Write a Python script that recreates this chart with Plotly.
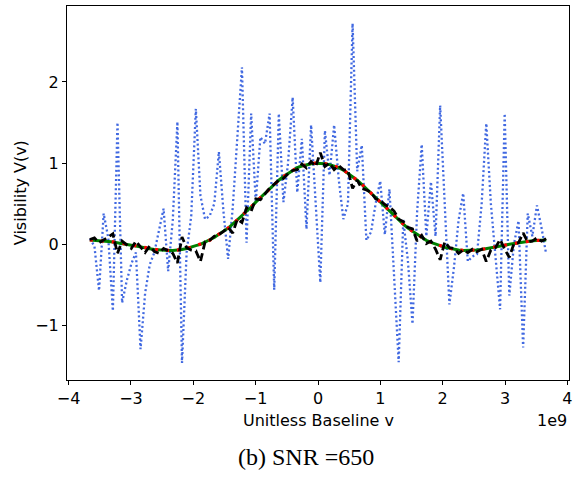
import numpy as np
import plotly.graph_objects as go

# sample positions (unitless baseline, 100 samples)
baseline = np.linspace(-3.66e9, 3.66e9, 100)

# noisy observed visibilities (blue dotted)
observed = [
    0.07, -0.02, -0.57, 0.38, 0.08, -0.82, 1.50, -0.72, -0.45, -0.24,
    -0.10, -1.29, -0.60, -0.25, -0.10, 0.15, 0.44, -0.33, 0.30, 1.51,
    -1.46, -0.10, 0.35, 1.67, 0.60, 0.31, 0.35, 0.50, 1.14, 0.40,
    -0.18, 0.45, 1.30, 2.18, 0.02, 1.61, 0.52, 1.32, 1.24, 1.61,
    -0.56, 1.61, 0.52, 1.00, 1.81, 0.64, 1.30, 0.19, 1.47, 0.56,
    -0.47, 1.40, 0.85, 1.47, 0.80, 0.31, 0.50, 2.72, 0.90, 1.22,
    0.05, 0.15, 0.50, 0.78, 0.12, 0.68, -0.40, -1.45, 0.30, -0.20,
    -0.98, 0.40, 1.23, 0.10, 0.77, 0.10, 1.71, 0.40, -0.74, -0.28,
    0.30, 0.63, -0.21, -0.15, -0.12, 0.50, 1.49, 0.50, -0.20, -0.80,
    1.61, -0.63, 0.00, 0.29, -1.27, 0.38, 0.10, 0.48, 0.20, -0.12,
]

# true model visibility (green solid)
true_model = [
    0.055, 0.052, 0.048, 0.044, 0.036, 0.030, 0.022, 0.012, 0.002, -0.010,
    -0.020, -0.033, -0.043, -0.053, -0.062, -0.068, -0.072, -0.075, -0.074, -0.070,
    -0.062, -0.050, -0.037, -0.015, 0.000, 0.025, 0.050, 0.085, 0.125, 0.160,
    0.200, 0.250, 0.300, 0.355, 0.405, 0.460, 0.520, 0.575, 0.630, 0.685,
    0.740, 0.790, 0.835, 0.875, 0.915, 0.945, 0.965, 0.982, 0.993, 1.000,
    1.000, 0.993, 0.982, 0.965, 0.945, 0.915, 0.875, 0.835, 0.790, 0.740,
    0.685, 0.630, 0.575, 0.520, 0.460, 0.405, 0.355, 0.300, 0.250, 0.200,
    0.160, 0.125, 0.085, 0.050, 0.025, 0.000, -0.015, -0.037, -0.050, -0.062,
    -0.070, -0.074, -0.075, -0.072, -0.068, -0.062, -0.053, -0.043, -0.033, -0.020,
    -0.010, 0.002, 0.012, 0.022, 0.030, 0.036, 0.044, 0.048, 0.052, 0.055,
]

# fitted model (red dotted) - lies on the true model
fitted_model = list(true_model)

# reconstructed visibilities (black dashed)
reconstructed = [
    0.06, 0.08, 0.02, 0.05, 0.09, 0.13, -0.11, 0.04, 0.00, -0.05,
    0.04, -0.03, -0.10, -0.02, -0.09, -0.11, -0.05, -0.08, -0.11, -0.23,
    0.09, -0.04, -0.07, -0.08, -0.21, 0.03, 0.05, 0.10, 0.12, 0.16,
    0.21, 0.14, 0.31, 0.27, 0.45, 0.41, 0.56, 0.55, 0.62, 0.69,
    0.74, 0.79, 0.81, 0.87, 0.91, 0.92, 0.99, 0.94, 1.02, 0.96,
    1.13, 0.96, 1.00, 0.92, 0.97, 0.92, 0.91, 0.69, 0.79, 0.69,
    0.67, 0.64, 0.56, 0.54, 0.49, 0.46, 0.41, 0.31, 0.28, 0.21,
    0.19, 0.04, 0.11, 0.01, 0.04, -0.06, -0.19, 0.03, -0.04, -0.05,
    -0.11, -0.07, -0.10, -0.06, -0.09, -0.06, -0.21, -0.07, -0.04, 0.06,
    -0.06, -0.16, 0.01, 0.02, 0.14, 0.03, 0.04, 0.08, 0.04, 0.07,
]

x_ticks = [-4e9, -3e9, -2e9, -1e9, 0, 1e9, 2e9, 3e9, 4e9]
x_ticktext = ["\u22124", "\u22123", "\u22122", "\u22121", "0", "1", "2", "3", "4"]
y_ticks = [-1, 0, 1, 2]
y_ticktext = ["\u22121", "0", "1", "2"]

fig = go.Figure()
fig.add_trace(go.Scatter(x=baseline, y=observed, mode="lines",
                         line=dict(color="#4169E1", width=2.3, dash="2px,2.6px")))
fig.add_trace(go.Scatter(x=baseline, y=true_model, mode="lines",
                         line=dict(color="#008000", width=3)))
fig.add_trace(go.Scatter(x=baseline, y=fitted_model, mode="lines",
                         line=dict(color="#ff0000", width=3.2, dash="3px,8px")))
fig.add_trace(go.Scatter(x=baseline, y=reconstructed, mode="lines",
                         line=dict(color="#000000", width=2.8, dash="8px,4px")))

font_main = dict(family="DejaVu Sans", size=16, color="#000000")

fig.update_layout(
    width=577, height=477,
    margin=dict(l=67, r=6, t=5, b=97),
    paper_bgcolor="white", plot_bgcolor="white",
    showlegend=False,
    font=font_main,
    xaxis=dict(range=[-4.026e9, 4.026e9], tickvals=x_ticks, ticktext=x_ticktext,
               showgrid=False, zeroline=False, showline=True, mirror=True,
               linecolor="#000000", linewidth=1.1, ticks="outside", ticklen=4,
               tickwidth=1, tickcolor="#000000", tickfont=font_main),
    yaxis=dict(range=[-1.67, 2.935], tickvals=y_ticks, ticktext=y_ticktext,
               showgrid=False, zeroline=False, showline=True, mirror=True,
               linecolor="#000000", linewidth=1.1, ticks="outside", ticklen=4,
               tickwidth=1, tickcolor="#000000", tickfont=font_main),
    annotations=[
        dict(text="Unitless Baseline v", xref="paper", yref="paper",
             x=0.5, y=(380 - 421) / 375, xanchor="center", yanchor="middle",
             showarrow=False, font=font_main),
        dict(text="1e9", xref="paper", yref="paper",
             x=1.0, y=(380 - 421) / 375, xanchor="right", yanchor="middle",
             showarrow=False, font=font_main),
        dict(text="Visibility V(v)", xref="paper", yref="paper",
             x=(20 - 67) / 504, y=0.5, xanchor="center", yanchor="middle",
             textangle=-90, showarrow=False, font=font_main),
        dict(text="(b) SNR =650", xref="paper", yref="paper",
             x=(307 - 67) / 504, y=(380 - 457) / 375, xanchor="center", yanchor="middle",
             showarrow=False, font=dict(family="Liberation Serif", size=24, color="#000000")),
    ],
)

fig.write_html("out.html")
